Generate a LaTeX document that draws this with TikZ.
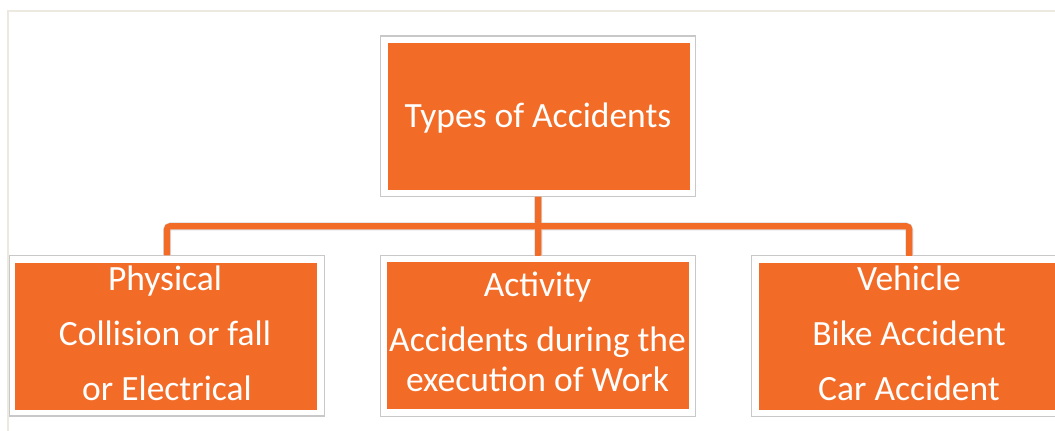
\documentclass[tikz,border=0pt]{standalone}
\usepackage{fontspec}
\setmainfont{Carlito}
\definecolor{accorange}{RGB}{243,108,39}
\definecolor{framegray}{RGB}{200,200,200}
\definecolor{pageline}{RGB}{236,234,224}
\tikzset{
  frame/.style={draw=framegray, line width=1.2pt, fill=white, minimum width=315pt, minimum height=160.5pt, inner sep=0pt, outer sep=0pt},
  inner/.style={fill=accorange, minimum width=302pt, minimum height=147pt, inner sep=0pt, outer sep=0pt},
  txt/.style={text=white, font=\fontsize{35.5}{40}\selectfont, anchor=base, inner sep=0pt},
  connshadow/.style={draw=framegray!70, line width=8pt, rounded corners=4pt},
  conn/.style={draw=accorange, line width=6.2pt, rounded corners=3pt}
}
\begin{document}
\begin{tikzpicture}[x=1pt,y=-1pt]
\useasboundingbox (0,0) rectangle (1055,431);
\clip (0,0) rectangle (1055,431);
\fill[white] (0,0) rectangle (1055,431);
\draw[pageline, line width=2pt] (8,431) -- (8,10.7) -- (1055,10.7);

% frames
\node[frame] (topf) at (538.2,116.3) {};
\node[inner] (topi) at (538.7,116.7) {};
\node[frame] (leftf) at (167,335.7) {};
\node[inner] (lefti) at (166.3,336) {};
\node[frame] (midf) at (538.3,336) {};
\node[inner] (midi) at (538.3,335.8) {};
\node[frame] (rightf) at (909.3,336) {};
\node[inner] (righti) at (910.2,336) {};

% connectors
\coordinate (bar) at (538.2,226.3);
\draw[connshadow] (leftf.north) |- (bar) -| (rightf.north);
\draw[connshadow] (topf.south) -- (midf.north);
\draw[conn] (leftf.north) |- (bar) -| (rightf.north);
\draw[conn] (topf.south) -- (midf.north);

% texts
\node[txt] (t0) at (538,127.3) {Types of Accidents};
\node[txt] (l1) at (165,290) {Physical};
\node[txt] (l2) at (165,345) {Collision or fall};
\node[txt] (l3) at (167,400) {or Electrical};
\node[txt] (m1) at (537.5,296.7) {Activity};
\node[txt] (m2) at (537.5,351.7) {Accidents during the};
\node[txt] (m3) at (537.5,391.7) {execution of Work};
\node[txt] (r1) at (909,290) {Vehicle};
\node[txt] (r2) at (909,345) {Bike Accident};
\node[txt] (r3) at (909,400) {Car Accident};
\end{tikzpicture}
\end{document}
